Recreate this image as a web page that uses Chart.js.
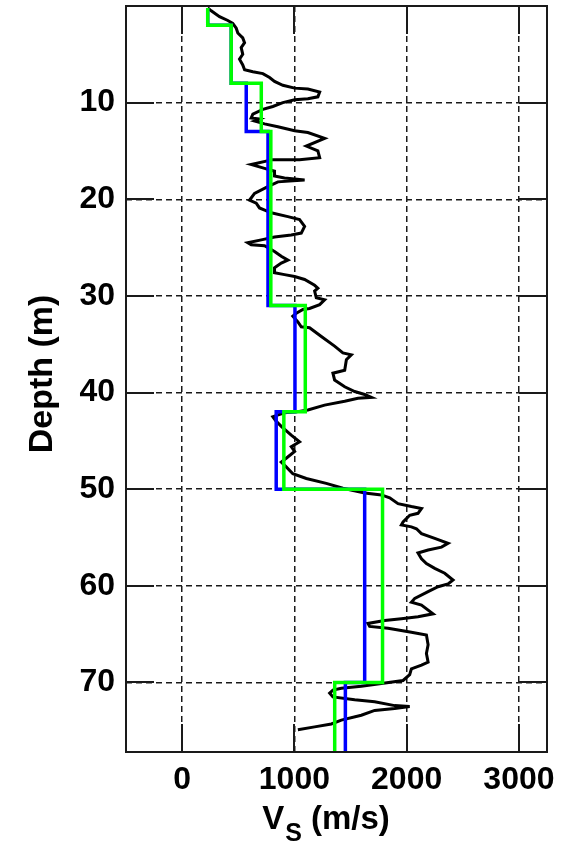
<!DOCTYPE html>
<html>
<head>
<meta charset="utf-8">
<script src="https://cdn.jsdelivr.net/npm/chart.js@4/dist/chart.umd.min.js"></script>
<style>
  html, body { margin: 0; padding: 0; background: #fff; }
  #chart { display: block; }
</style>
</head>
<body>
<canvas id="chart" width="572" height="844"></canvas>
<script>
// measured shear-wave velocity log (depth in m, Vs in m/s)
const depthMeasured = [
  0.2, 0.5, 1.1, 1.5, 1.8, 2.3, 2.8, 3.3, 3.8, 4.3, 5.0, 5.5, 6.1, 6.6, 6.8, 7.0, 7.4, 7.8, 8.2, 8.5,
  8.6, 8.9, 9.4, 9.6, 9.7, 10.0, 10.4, 10.7, 11.2, 11.6, 11.7, 11.9, 12.2, 12.5, 12.9, 13.1, 13.7, 14.5, 15.0, 15.7,
  15.9, 15.9, 16.4, 16.8, 17.1, 17.6, 17.8, 18.0, 18.2, 18.7, 19.4, 20.1, 20.4, 20.9, 21.4, 21.8, 22.1, 22.8, 23.5, 23.7,
  23.9, 24.2, 24.5, 24.7, 24.8, 25.4, 25.9, 26.3, 26.6, 27.1, 27.6, 27.8, 28.0, 28.3, 28.9, 29.2, 29.5, 30.2, 30.4, 30.9,
  31.3, 31.4, 31.8, 32.1, 32.7, 33.2, 33.3, 34.2, 35.2, 35.9, 36.1, 36.6, 37.7, 38.0, 38.7, 39.4, 39.9, 40.2, 40.5, 40.6,
  40.9, 41.3, 41.8, 42.0, 42.1, 42.5, 42.9, 43.5, 44.4, 45.1, 45.6, 46.1, 46.8, 47.2, 47.7, 48.4, 48.9, 49.4, 49.9, 50.4,
  50.6, 50.9, 51.5, 51.8, 52.0, 52.5, 52.7, 53.4, 53.7, 53.9, 54.1, 54.6, 55.1, 55.6, 56.0, 56.3, 56.6, 57.2, 57.7, 58.2,
  58.7, 59.4, 59.8, 60.1, 60.6, 61.3, 61.7, 62.0, 62.9, 63.2, 63.4, 63.6, 63.9, 64.2, 64.4, 64.8, 65.1, 66.1, 67.0, 67.9,
  68.2, 68.6, 69.2, 69.8, 70.1, 70.4, 70.6, 70.8, 71.1, 71.5, 71.8, 72.0, 72.4, 72.5, 72.7, 72.9, 73.4, 73.9, 74.3, 74.6,
  74.9
];
const vsMeasured = [
  228, 259, 333, 407, 451, 482, 496, 540, 556, 526, 540, 511, 540, 556, 630, 719, 779, 823, 897, 1002,
  1120, 1225, 1209, 1120, 1002, 897, 808, 719, 630, 615, 689, 645, 734, 853, 1002, 1120, 1269, 1106, 1209, 1225,
  1046, 808, 615, 734, 823, 823, 912, 1091, 853, 763, 645, 600, 660, 689, 794, 942, 1046, 1091, 1061, 972,
  823, 705, 585, 615, 734, 823, 883, 942, 883, 823, 823, 912, 1002, 1091, 1180, 1209, 1180, 1195, 1269, 1225,
  1135, 1076, 1017, 986, 1031, 1061, 1135, 1240, 1358, 1432, 1507, 1463, 1448, 1343, 1358, 1448, 1537, 1626, 1686, 1566,
  1448, 1269, 1120, 1017, 912, 808, 832, 883, 972, 1046, 972, 1002, 927, 883, 927, 986, 1106, 1284, 1432, 1626,
  1775, 1849, 1923, 2042, 2132, 2101, 2027, 1968, 1953, 2042, 2087, 2132, 2250, 2369, 2310, 2191, 2101, 2132, 2176, 2250,
  2339, 2413, 2369, 2280, 2191, 2072, 2042, 2132, 2235, 2101, 1953, 1804, 1655, 1670, 1834, 2042, 2176, 2191, 2176, 2191,
  2132, 2042, 2027, 1968, 1775, 1596, 1418, 1343, 1314, 1343, 1537, 1715, 1893, 2027, 1893, 1715, 1596, 1418, 1329, 1180,
  1031
];

// layered models: top of each layer and its velocity
const layerTops = [0.2, 2, 8, 13, 31, 42, 50, 70];
const modelBottom = 77.2;
const vsBlue = [228, 437, 571, 765, 1005, 838, 1626, 1454];
const vsGreen = [228, 437, 705, 790, 1097, 906, 1785, 1359];

const xTicks = [0, 1000, 2000, 3000];
const yTicks = [10, 20, 30, 40, 50, 60, 70];

const FONT = 'Liberation Sans';

function stairs(vs) {
  const pts = [];
  for (let i = 0; i < layerTops.length; i++) {
    const bottom = i + 1 < layerTops.length ? layerTops[i + 1] : modelBottom;
    pts.push({ x: vs[i], y: layerTops[i] });
    pts.push({ x: vs[i], y: bottom });
  }
  return pts;
}

const measured = depthMeasured.map((d, i) => ({ x: vsMeasured[i], y: d }));

// box around the axes plus inward tick marks on all four sides
const framePlugin = {
  id: 'frame',
  afterDraw(chart) {
    const { ctx, chartArea: a, scales } = chart;
    const len = 28;
    ctx.save();
    ctx.strokeStyle = '#1a1a1a';
    ctx.lineWidth = 2;
    ctx.beginPath();
    xTicks.forEach(v => {
      const x = Math.round(scales.x.getPixelForValue(v));
      ctx.moveTo(x, a.bottom); ctx.lineTo(x, a.bottom - len);
      ctx.moveTo(x, a.top); ctx.lineTo(x, a.top + len);
    });
    yTicks.forEach(v => {
      const y = Math.round(scales.y.getPixelForValue(v));
      ctx.moveTo(a.left, y); ctx.lineTo(a.left + len, y);
      ctx.moveTo(a.right, y); ctx.lineTo(a.right - len, y);
    });
    ctx.stroke();
    ctx.strokeRect(a.left, a.top, a.right - a.left, a.bottom - a.top);
    ctx.restore();
  }
};

// axis titles, the x one needs a subscript
const titlesPlugin = {
  id: 'titles',
  afterDraw(chart) {
    const { ctx, chartArea: a } = chart;
    ctx.save();
    ctx.fillStyle = '#000';
    ctx.textBaseline = 'alphabetic';

    ctx.font = `bold 34px "${FONT}"`;
    ctx.translate(52, (a.top + a.bottom) / 2 - 5);
    ctx.rotate(-Math.PI / 2);
    ctx.textAlign = 'center';
    ctx.fillText('Depth (m)', 0, 0);
    ctx.setTransform(1, 0, 0, 1, 0, 0);

    ctx.textAlign = 'left';
    const big = `bold 33px "${FONT}"`, small = `bold 25px "${FONT}"`;
    ctx.font = big;
    const wV = ctx.measureText('V').width;
    const wRest = ctx.measureText(' (m/s)').width;
    ctx.font = small;
    const wS = ctx.measureText('S').width;
    let x = (a.left + a.right) / 2 - 11 - (wV + wS + wRest) / 2;
    const base = 829;
    ctx.font = big;
    ctx.fillText('V', x, base);
    x += wV + 1;
    ctx.font = small;
    ctx.fillText('S', x, base + 12);
    x += wS;
    ctx.font = big;
    ctx.fillText(' (m/s)', x, base);
    ctx.restore();
  }
};

new Chart(document.getElementById('chart'), {
  type: 'scatter',
  data: {
    datasets: [
      {
        data: stairs(vsGreen),
        showLine: true,
        borderColor: '#00ff00',
        borderWidth: 3.5,
        pointRadius: 0
      },
      {
        data: stairs(vsBlue),
        showLine: true,
        borderColor: '#0000ff',
        borderWidth: 3.5,
        pointRadius: 0
      },
      {
        data: measured,
        showLine: true,
        borderColor: '#000000',
        borderWidth: 3,
        pointRadius: 0
      }
    ]
  },
  options: {
    responsive: false,
    animation: false,
    devicePixelRatio: 1,
    layout: { autoPadding: false, padding: { left: 0, right: 25, top: 6, bottom: 0 } },
    plugins: {
      legend: { display: false },
      tooltip: { enabled: false }
    },
    scales: {
      x: {
        type: 'linear',
        min: -500,
        max: 3250,
        afterBuildTicks: s => { s.ticks = xTicks.map(v => ({ value: v })); },
        afterFit: s => {
          s.height = 92;
          s.paddingLeft = 0;
          s.paddingRight = 0;
        },
        grid: { color: '#1a1a1a', lineWidth: 1.5, drawTicks: false },
        border: { display: false, dash: [6, 4] },
        ticks: {
          color: '#000',
          font: { family: FONT, size: 32, weight: 'bold' },
          padding: 9,
          maxRotation: 0,
          callback: v => String(v)
        }
      },
      y: {
        type: 'linear',
        reverse: true,
        min: 0,
        max: modelBottom,
        afterBuildTicks: s => { s.ticks = yTicks.map(v => ({ value: v })); },
        afterFit: s => {
          s.width = 126;
          s.paddingTop = 0;
          s.paddingBottom = 0;
        },
        grid: { color: '#1a1a1a', lineWidth: 1.5, drawTicks: false },
        border: { display: false, dash: [6, 4] },
        ticks: {
          color: '#000',
          font: { family: FONT, size: 32, weight: 'bold' },
          padding: 11,
          callback: v => String(v)
        }
      }
    }
  },
  plugins: [framePlugin, titlesPlugin]
});
</script>
</body>
</html>
